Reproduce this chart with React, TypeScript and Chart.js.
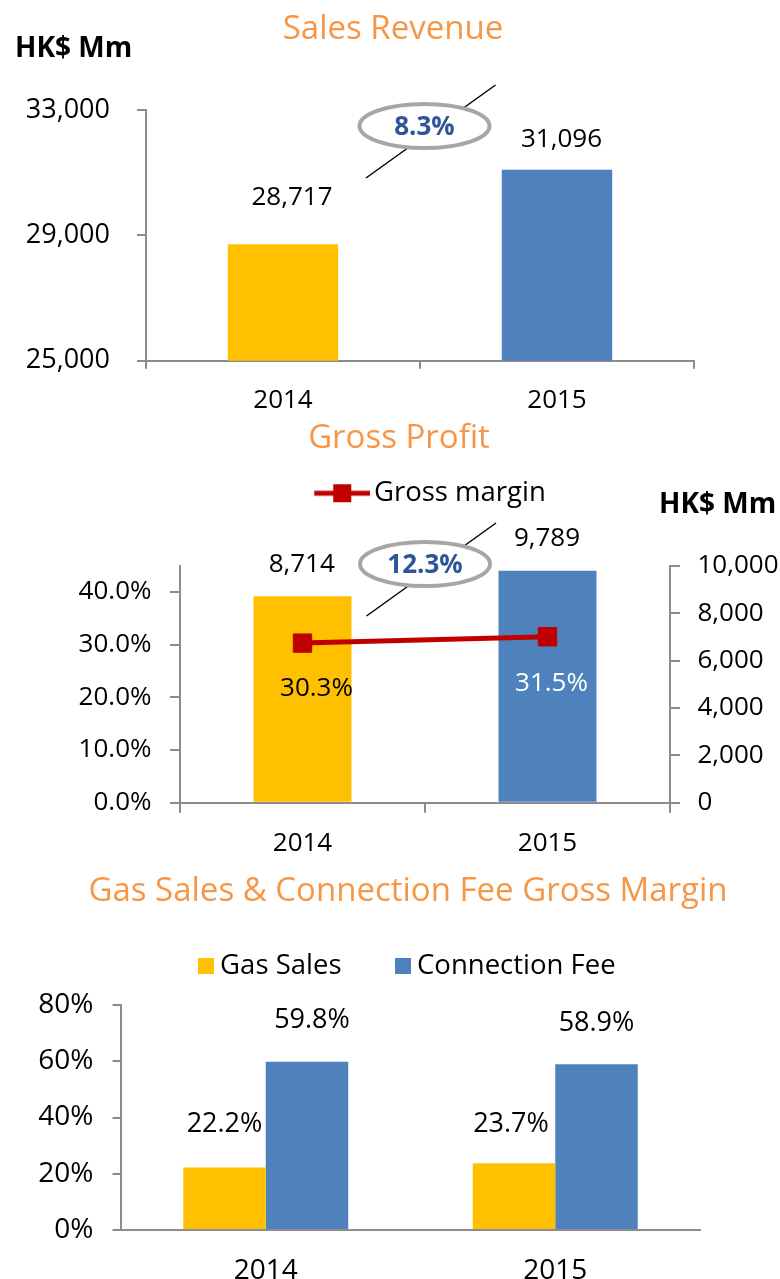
import React, { useEffect, useRef } from 'react';
import { Chart, registerables } from 'chart.js';

Chart.register(...registerables);

// ---------- data ----------
const years = ['2014', '2015'];
const salesRevenue = [28717, 31096];
const grossProfit = [8714, 9789];
const grossMarginPct = [30.3, 31.5];
const gasSalesMargin = [22.2, 23.7];
const connectionFeeMargin = [59.8, 58.9];
const revenueAxis = [25000, 33000, 4000]; // min, max, step
const marginAxis = [0, 45, 10];
const marginTickMax = 40;
const profitAxis = [0, 10000, 2000];
const gasAxis = [0, 80, 20];

// ---------- style ----------
const FONT = "'Open Sans', 'DejaVu Sans', sans-serif";
const YELLOW = '#FFC000';
const BLUE = '#4F81BD';
const RED = '#C00000';
const ORANGE = '#F79646';
const AXIS = '#8C8C8C';
const GROWTH_BLUE = '#2F5597';
const TEXT = '#000000';

const fmtInt = (v: number) => Number(v).toLocaleString('en-US');
const fmtPct1 = (v: number) => Number(v).toFixed(1) + '%';
const growth = (arr: number[]) => ((arr[1] / arr[0] - 1) * 100).toFixed(1) + '%';

Chart.defaults.font.family = FONT;

const overlayPlugin = {
  id: 'overlay',
  afterDatasetsDraw(chart: any, _args: any, opts: any) {
    const ctx = chart.ctx;
    ctx.save();
    if (opts.bubble) {
      const xs = chart.scales.x;
      const cx = (xs.getPixelForValue(0) + xs.getPixelForValue(1)) / 2 + opts.bubble.dx;
      const cy = chart.chartArea.top + opts.bubble.dy;
      ctx.strokeStyle = '#000';
      ctx.lineWidth = 1.5;
      ctx.beginPath();
      ctx.moveTo(cx - 58.5, cy + 52);
      ctx.lineTo(cx + 71, cy - 41);
      ctx.stroke();
      ctx.beginPath();
      ctx.ellipse(cx, cy, 65, 22, 0, 0, Math.PI * 2);
      ctx.fillStyle = '#FFFFFF';
      ctx.fill();
      ctx.strokeStyle = '#A6A6A6';
      ctx.lineWidth = 4;
      ctx.stroke();
      ctx.fillStyle = GROWTH_BLUE;
      ctx.font = `bold 26px ${FONT}`;
      ctx.textAlign = 'center';
      ctx.textBaseline = 'middle';
      ctx.fillText(opts.bubble.text, cx, cy + 2);
    }
    const size = opts.fontSize || 26;
    (opts.labels || []).forEach((l: any) => {
      const el = chart.getDatasetMeta(l.ds).data[l.i];
      if (!el) return;
      ctx.font = `${size}px ${FONT}`;
      ctx.fillStyle = l.color || TEXT;
      ctx.textAlign = 'center';
      ctx.textBaseline = 'middle';
      ctx.fillText(l.text, el.x + l.dx, el.y + l.dy + 1.5);
    });
    (opts.notes || []).forEach((n: any) => {
      ctx.font = n.font;
      ctx.fillStyle = n.color || TEXT;
      ctx.textAlign = n.align || 'left';
      ctx.textBaseline = 'middle';
      ctx.fillText(n.text, n.x, n.y);
    });
    ctx.restore();
  },
};

const tickFont = { family: FONT, size: 26 };
const legendFont = { family: FONT, size: 27.5 };
const titleFont = { family: FONT, size: 33, weight: 'normal' as any };

const spacerAxis = (position: string, size: number): any => ({
  type: position === 'top' ? 'category' : 'linear',
  position,
  grid: { display: false },
  border: { display: false },
  ticks: { display: false },
  afterFit: (s: any) => {
    if (position === 'top') s.height = size;
    else s.width = size;
  },
});

// legend icon: line with square marker, drawn right-shifted inside a wider image
function makeLineIcon(lineW: number, shift: number) {
  const c = document.createElement('canvas');
  c.width = lineW + shift * 2;
  c.height = 20;
  const g = c.getContext('2d')!;
  g.strokeStyle = RED;
  g.lineWidth = 5;
  g.beginPath();
  g.moveTo(shift * 2, 10);
  g.lineTo(shift * 2 + lineW, 10);
  g.stroke();
  g.fillStyle = RED;
  g.fillRect(shift * 2 + lineW / 2 - 9, 1, 18, 18);
  return c;
}

function makeBoxIcon(color: string, side: number) {
  const c = document.createElement('canvas');
  c.width = side;
  c.height = side;
  const g = c.getContext('2d')!;
  g.fillStyle = color;
  g.fillRect(0, 0, side, side);
  return c;
}

function salesConfig(): any {
  return {
    type: 'bar',
    data: {
      labels: years,
      datasets: [
        {
          label: 'Sales Revenue',
          data: salesRevenue,
          xAxisID: 'x',
          yAxisID: 'y',
          backgroundColor: [YELLOW, BLUE],
          categoryPercentage: 1,
          barPercentage: 0.403,
        },
      ],
    },
    plugins: [overlayPlugin],
    options: {
      animation: false,
      responsive: false,
      maintainAspectRatio: false,
      events: [],
      layout: { padding: { left: 6, right: 0, top: 0, bottom: 0 } },
      plugins: {
        legend: { display: false },
        tooltip: { enabled: false },
        title: {
          display: true,
          text: 'Sales Revenue',
          color: ORANGE,
          font: titleFont,
          padding: { top: 10.2, bottom: 60.2 },
        },
        overlay: {
          bubble: { text: growth(salesRevenue), dx: 4.5, dy: 16 },
          labels: [
            { ds: 0, i: 0, text: fmtInt(salesRevenue[0]), dx: 9, dy: -48 },
            { ds: 0, i: 1, text: fmtInt(salesRevenue[1]), dx: 4.5, dy: -31.5 },
          ],
          notes: [{ text: 'HK$ Mm', x: 15, y: 49, font: `bold 28px ${FONT}` }],
        },
      },
      scales: {
        x: {
          grid: { drawOnChartArea: false, drawTicks: true, tickLength: 8, color: AXIS, lineWidth: 2, offset: true },
          border: { color: AXIS, width: 2 },
          ticks: { color: TEXT, font: tickFont, padding: 16.7 },
          afterFit: (s: any) => { s.height = 49.3; },
        },
        y: {
          min: revenueAxis[0],
          max: revenueAxis[1],
          ticks: {
            stepSize: revenueAxis[2],
            color: TEXT,
            font: { family: FONT, size: 27 },
            padding: 27,
            callback: (v: number) => fmtInt(v),
          },
          grid: { drawOnChartArea: false, tickLength: 9, color: AXIS, lineWidth: 2 },
          border: { color: AXIS, width: 2 },
          afterFit: (s: any) => { s.width = 140; },
        },
        yRight: spacerAxis('right', 86),
      },
    },
  };
}

function profitConfig(): any {
  return {
    type: 'bar',
    data: {
      labels: years,
      datasets: [
        {
          type: 'line',
          label: 'Gross margin',
          data: grossMarginPct,
          xAxisID: 'x',
          yAxisID: 'y',
          borderColor: RED,
          backgroundColor: RED,
          borderWidth: 5,
          pointStyle: 'rect',
          pointRadius: 13,
          pointBorderWidth: 1,
          pointBorderColor: RED,
          pointBackgroundColor: RED,
          order: 0,
        },
        {
          type: 'bar',
          label: 'Gross Profit',
          data: grossProfit,
          xAxisID: 'x',
          yAxisID: 'y2',
          backgroundColor: [YELLOW, BLUE],
          categoryPercentage: 1,
          barPercentage: 0.4,
          order: 1,
        },
      ],
    },
    plugins: [overlayPlugin],
    options: {
      animation: false,
      responsive: false,
      maintainAspectRatio: false,
      events: [],
      layout: { padding: { left: 18, right: 0, top: 0, bottom: 0 } },
      plugins: {
        tooltip: { enabled: false },
        title: {
          display: true,
          text: 'Gross Profit',
          color: ORANGE,
          font: titleFont,
          padding: { top: 9.2, bottom: 9.2 },
        },
        legend: {
          display: true,
          position: 'top',
          fullSize: false,
          labels: {
            usePointStyle: true,
            pointStyle: makeLineIcon(56, 10),
            pointStyleWidth: 56,
            padding: 11.5,
            color: TEXT,
            font: legendFont,
            filter: (item: any) => item.datasetIndex === 0,
          },
        },
        overlay: {
          bubble: { text: growth(grossProfit), dx: 0, dy: -1.7 },
          labels: [
            { ds: 1, i: 0, text: fmtInt(grossProfit[0]), dx: -0.75, dy: -33.3 },
            { ds: 1, i: 1, text: fmtInt(grossProfit[1]), dx: -0.5, dy: -33.3 },
            { ds: 0, i: 0, text: fmtPct1(grossMarginPct[0]), dx: 14, dy: 43.7 },
            { ds: 0, i: 1, text: fmtPct1(grossMarginPct[1]), dx: 4, dy: 45, color: '#FFFFFF' },
          ],
          notes: [{ text: 'HK$ Mm', x: 659, y: 95, font: `bold 28px ${FONT}` }],
        },
      },
      scales: {
        x: {
          grid: { drawOnChartArea: false, drawTicks: true, tickLength: 10, color: AXIS, lineWidth: 2, offset: true },
          border: { color: AXIS, width: 2 },
          ticks: { color: TEXT, font: tickFont, padding: 15.1 },
          afterFit: (s: any) => { s.height = 57.3; },
        },
        xTop: spacerAxis('top', 48.7),
        y: {
          position: 'left',
          min: marginAxis[0],
          max: marginAxis[1],
          bounds: 'data',
          ticks: {
            stepSize: marginAxis[2],
            color: TEXT,
            font: tickFont,
            padding: 18.5,
            callback: (v: number) => fmtPct1(v),
          },
          afterBuildTicks: (s: any) => {
            s.ticks = s.ticks.filter((t: any) => t.value <= marginTickMax);
          },
          grid: { drawOnChartArea: false, tickLength: 10, color: AXIS, lineWidth: 2 },
          border: { color: AXIS, width: 2 },
          afterFit: (s: any) => { s.width = 162; },
        },
        y2: {
          position: 'right',
          min: profitAxis[0],
          max: profitAxis[1],
          ticks: { stepSize: profitAxis[2], color: TEXT, font: tickFont, padding: 17.5, callback: (v: number) => fmtInt(v) },
          grid: { drawOnChartArea: false, tickLength: 10, color: AXIS, lineWidth: 2 },
          border: { color: AXIS, width: 2 },
          afterFit: (s: any) => { s.width = 110; },
        },
      },
    },
  };
}

function gasConfig(): any {
  const gasFont = { family: FONT, size: 28 };
  return {
    type: 'bar',
    data: {
      labels: years,
      datasets: [
        {
          label: 'Gas Sales',
          data: gasSalesMargin,
          xAxisID: 'x',
          yAxisID: 'y',
          backgroundColor: YELLOW,
          pointStyle: makeBoxIcon(YELLOW, 16),
          categoryPercentage: 0.57,
          barPercentage: 1,
        },
        {
          label: 'Connection Fee',
          data: connectionFeeMargin,
          xAxisID: 'x',
          yAxisID: 'y',
          backgroundColor: BLUE,
          pointStyle: makeBoxIcon(BLUE, 16),
          categoryPercentage: 0.57,
          barPercentage: 1,
        },
      ],
    },
    plugins: [overlayPlugin],
    options: {
      animation: false,
      responsive: false,
      maintainAspectRatio: false,
      events: [],
      layout: { padding: { left: 36, right: 0, top: 0, bottom: 0 } },
      plugins: {
        tooltip: { enabled: false },
        title: {
          display: true,
          text: 'Gas Sales & Connection Fee Gross Margin',
          color: ORANGE,
          font: titleFont,
          padding: { top: 12.2, bottom: -20.35 },
        },
        legend: {
          display: true,
          position: 'top',
          fullSize: false,
          labels: {
            usePointStyle: true,
            pointStyleWidth: 1,
            padding: 60.8,
            color: TEXT,
            font: legendFont,
          },
        },
        overlay: {
          fontSize: 27,
          labels: [
            { ds: 0, i: 0, text: fmtPct1(gasSalesMargin[0]), dx: 0, dy: -44.6 },
            { ds: 1, i: 0, text: fmtPct1(connectionFeeMargin[0]), dx: 5, dy: -42.8 },
            { ds: 0, i: 1, text: fmtPct1(gasSalesMargin[1]), dx: -3, dy: -41 },
            { ds: 1, i: 1, text: fmtPct1(connectionFeeMargin[1]), dx: 0, dy: -43 },
          ],
        },
      },
      scales: {
        x: {
          grid: { drawOnChartArea: false, drawTicks: false, color: AXIS, lineWidth: 2 },
          border: { color: AXIS, width: 2 },
          ticks: { color: TEXT, font: gasFont, padding: 24.2 },
          afterFit: (s: any) => { s.height = 49; },
        },
        xTop: spacerAxis('top', 15.25),
        y: {
          min: gasAxis[0],
          max: gasAxis[1],
          ticks: { stepSize: gasAxis[2], color: TEXT, font: gasFont, padding: 19, callback: (v: number) => v + '%' },
          grid: { drawOnChartArea: false, tickLength: 8.5, color: AXIS, lineWidth: 2 },
          border: { color: AXIS, width: 2 },
          afterFit: (s: any) => { s.width = 85; },
        },
        yRight: spacerAxis('right', 80),
      },
    },
  };
}

export default function App() {
  const c1 = useRef<HTMLCanvasElement>(null);
  const c2 = useRef<HTMLCanvasElement>(null);
  const c3 = useRef<HTMLCanvasElement>(null);

  useEffect(() => {
    const charts = [
      new Chart(c1.current!, salesConfig()),
      new Chart(c2.current!, profitConfig()),
      new Chart(c3.current!, gasConfig()),
    ];
    return () => charts.forEach((c) => c.destroy());
  }, []);

  return (
    <div style={{ position: 'absolute', left: 0, top: 0, width: 780, height: 1279, background: '#FFFFFF', overflow: 'hidden' }}>
      <canvas ref={c1} width={780} height={410} style={{ position: 'absolute', left: 0, top: 0 }} />
      <canvas ref={c2} width={780} height={450} style={{ position: 'absolute', left: 0, top: 410 }} />
      <canvas ref={c3} width={780} height={419} style={{ position: 'absolute', left: 0, top: 860 }} />
    </div>
  );
}
